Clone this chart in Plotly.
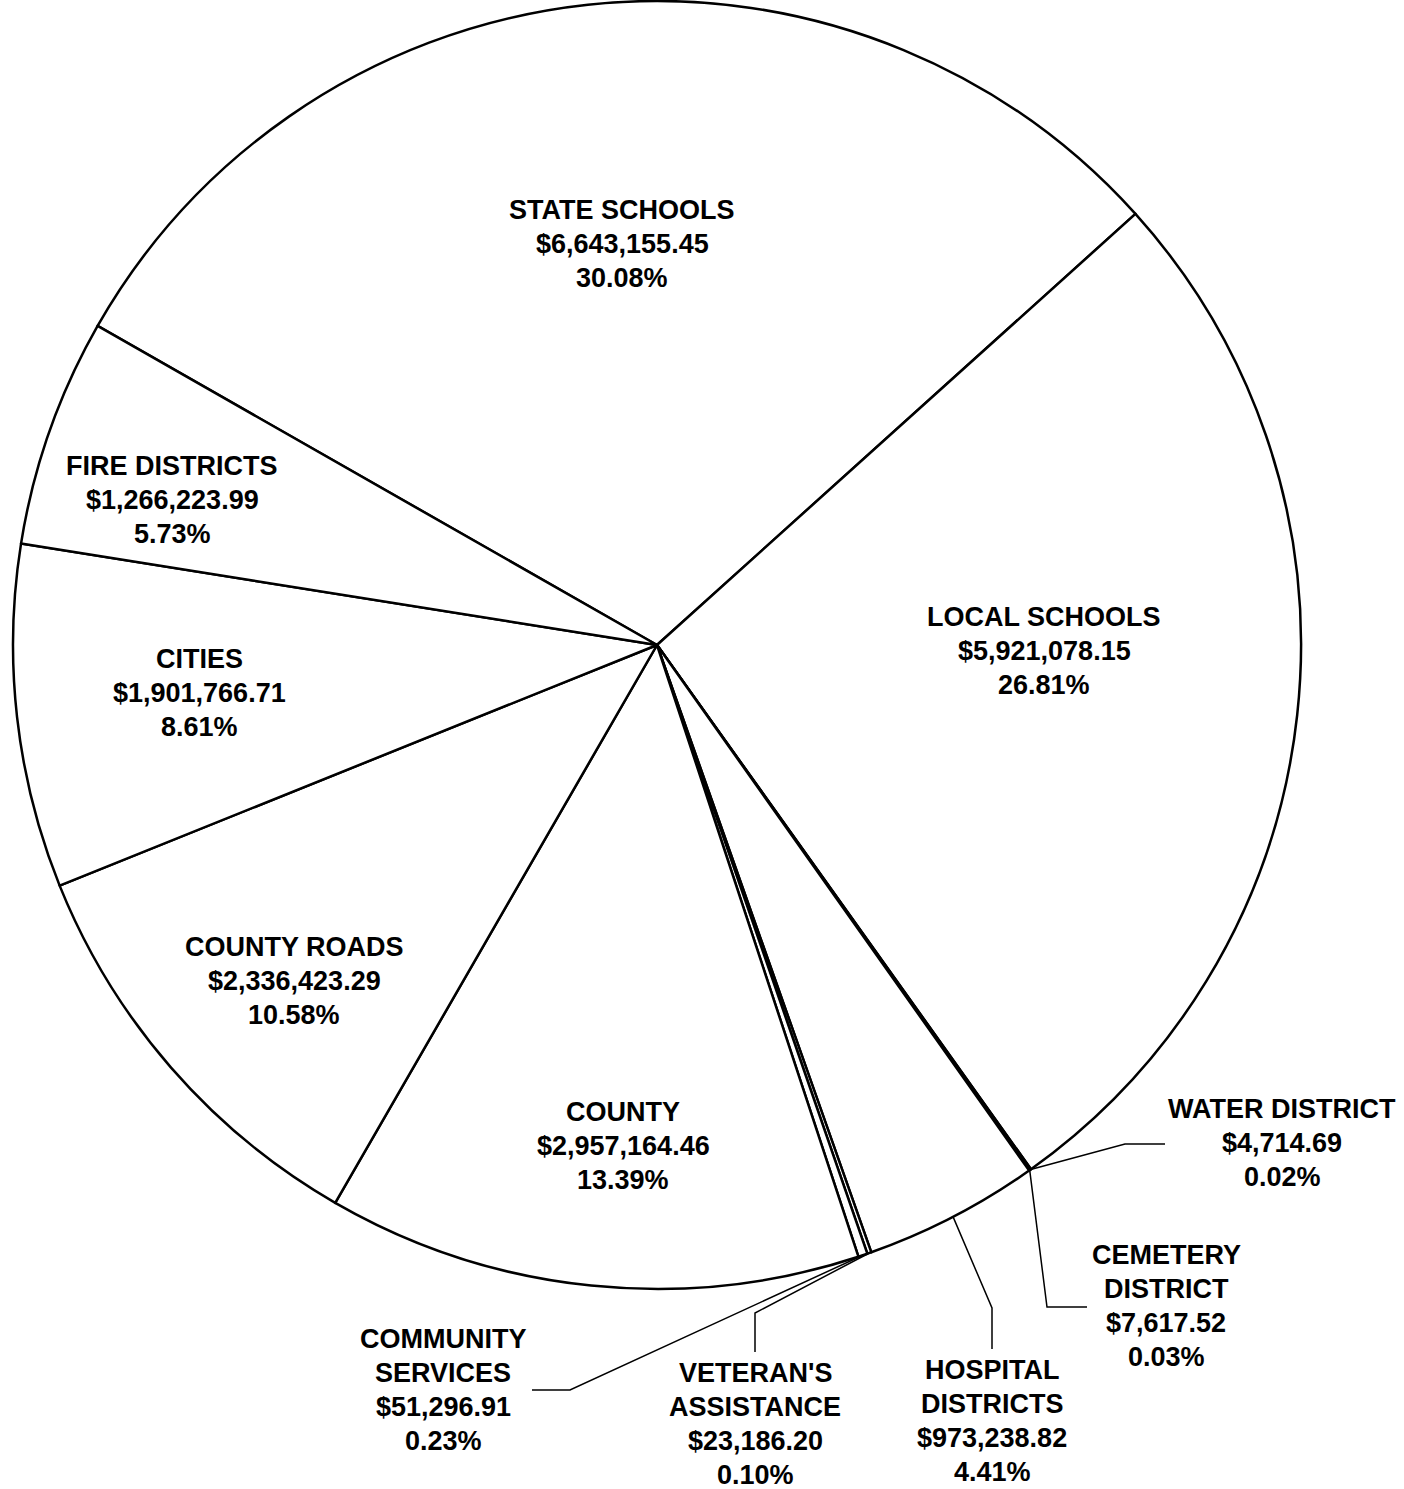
import numpy as np
import plotly.graph_objects as go

# ---- data (clockwise order starting at the State Schools slice) ----
categories = ["STATE SCHOOLS", "LOCAL SCHOOLS", "WATER DISTRICT", "CEMETERY DISTRICT",
              "HOSPITAL DISTRICTS", "VETERAN'S ASSISTANCE", "COMMUNITY SERVICES",
              "COUNTY", "COUNTY ROADS", "CITIES", "FIRE DISTRICTS"]
display_names = ["STATE SCHOOLS", "LOCAL SCHOOLS", "WATER DISTRICT", "CEMETERY<br>DISTRICT",
                 "HOSPITAL<br>DISTRICTS", "VETERAN'S<br>ASSISTANCE", "COMMUNITY<br>SERVICES",
                 "COUNTY", "COUNTY ROADS", "CITIES", "FIRE DISTRICTS"]
amounts = [6643155.45, 5921078.15, 4714.69, 7617.52, 973238.82, 23186.20, 51296.91,
           2957164.46, 2336423.29, 1901766.71, 1266223.99]
percents = [30.08, 26.81, 0.02, 0.03, 4.41, 0.10, 0.23, 13.39, 10.58, 8.61, 5.73]

# ---- layout constants (pixels) ----
W, H = 1404, 1489
CX, CY, R = 657, 645, 644
ROTATION = -60.3
LINE_STEP = 33.7
FONT = dict(family="Liberation Sans, Arial, sans-serif", size=27, color="black", weight="bold")

# label block centres (pixels)
label_pos = {
    "STATE SCHOOLS": (622, 244),
    "LOCAL SCHOOLS": (1044, 651),
    "WATER DISTRICT": (1282, 1143),
    "CEMETERY DISTRICT": (1166, 1306),
    "HOSPITAL DISTRICTS": (992, 1421),
    "VETERAN'S ASSISTANCE": (755, 1424),
    "COMMUNITY SERVICES": (443, 1390),
    "COUNTY": (623, 1146),
    "COUNTY ROADS": (294, 981),
    "CITIES": (199, 693),
    "FIRE DISTRICTS": (172, 500),
}
# leader line bend / end points (pixels)
leaders = {
    "WATER DISTRICT": [(1125, 1144), (1165, 1144)],
    "CEMETERY DISTRICT": [(1047, 1307), (1087, 1307)],
    "HOSPITAL DISTRICTS": [(992, 1308), (992, 1349)],
    "VETERAN'S ASSISTANCE": [(755, 1313), (755, 1352)],
    "COMMUNITY SERVICES": [(570, 1390), (532, 1390)],
}

fig = go.Figure()
fig.add_trace(go.Pie(
    labels=categories,
    values=amounts,
    sort=False,
    direction="clockwise",
    rotation=ROTATION,
    textinfo="none",
    hoverinfo="label+value+percent",
    marker=dict(colors=["white"] * len(amounts), line=dict(color="black", width=2.5)),
    domain=dict(x=[(CX - R) / W, (CX + R) / W], y=[1 - (CY + R) / H, 1 - (CY - R) / H]),
    showlegend=False,
))

# mid angles of slices for leader start points
vals = np.array(amounts)
cum = np.cumsum(vals) / vals.sum() * 360.0
starts = ROTATION + np.concatenate([[0], cum[:-1]])
mids = starts + (vals / vals.sum() * 360.0) / 2

shapes = []
annotations = []
for i, name in enumerate(categories):
    lines = display_names[i].split("<br>") + [f"${amounts[i]:,.2f}", f"{percents[i]:.2f}%"]
    x, y = label_pos[name]
    n = len(lines)
    for k, line in enumerate(lines):
        annotations.append(dict(
            x=x, y=y + (k - (n - 1) / 2) * LINE_STEP, xref="x", yref="y",
            text=line, showarrow=False, xanchor="center", yanchor="middle",
            align="center", font=FONT,
        ))
    if name in leaders:
        a = np.deg2rad(mids[i])
        sx, sy = CX + R * np.sin(a), CY - R * np.cos(a)
        pts = [(sx, sy)] + leaders[name]
        path = "M " + " L ".join(f"{px:.1f},{py:.1f}" for px, py in pts)
        shapes.append(dict(type="path", path=path, xref="x", yref="y",
                           line=dict(color="black", width=1.5)))

fig.update_layout(
    width=W, height=H,
    margin=dict(l=0, r=0, t=0, b=0),
    paper_bgcolor="white", plot_bgcolor="rgba(0,0,0,0)",
    xaxis=dict(range=[0, W], visible=False, domain=[0, 1], fixedrange=True),
    yaxis=dict(range=[H, 0], visible=False, domain=[0, 1], fixedrange=True),
    shapes=shapes,
    annotations=annotations,
)

fig.write_html("out.html")
